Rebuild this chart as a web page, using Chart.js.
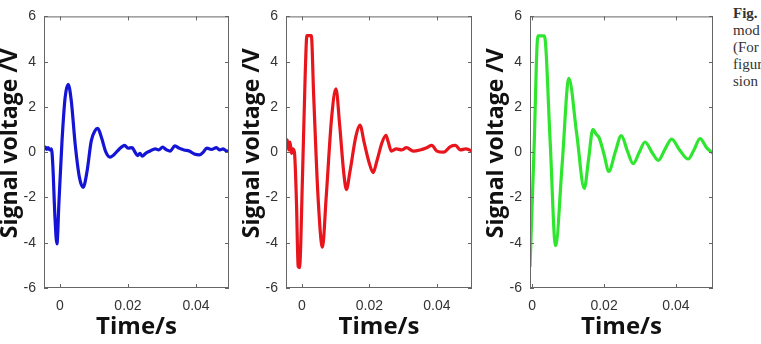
<!DOCTYPE html>
<html>
<head>
<meta charset="utf-8">
<script src="https://cdn.jsdelivr.net/npm/chart.js@4"></script>
<style>
  html, body { margin: 0; padding: 0; background: #fff; overflow: hidden; }
  body { width: 761px; height: 344px; position: relative; }
  .panel { position: absolute; top: 0; width: 240px; height: 344px; }
  .caption {
    position: absolute; left: 733px; top: 5px;
    font-family: "Liberation Serif", serif; font-size: 15px; line-height: 17px;
    color: #333; white-space: nowrap;
  }
</style>
</head>
<body>
<div class="panel" style="left:0px"><canvas id="g1" width="240" height="344"></canvas></div>
<div class="panel" style="left:242px"><canvas id="g2" width="240" height="344"></canvas></div>
<div class="panel" style="left:486px"><canvas id="g3" width="240" height="344"></canvas></div>
<div class="caption"><b>Fig.</b><br>mod<br>(For<br>figur<br>sion</div>

<script>
// eixos
const yTicks = [-6, -4, -2, 0, 2, 4, 6];
const xTicks = [0, 0.02, 0.04];
const xTickLabels = ["0", "0.02", "0.04"];
const tituloY = "Signal voltage /V";

// sinal 1 (azul)
const tempo1 = [-0.0047, -0.0043, -0.0039, -0.0035, -0.0030, -0.0025, -0.0021, -0.0015, -0.0009, -0.0003,
    0.0006, 0.0015, 0.0024, 0.0033, 0.0045, 0.0057, 0.0068, 0.0079, 0.0092, 0.0103,
    0.0111, 0.0122, 0.0135, 0.0147, 0.0158, 0.0172, 0.0190, 0.0200, 0.0212, 0.0220,
    0.0228, 0.0235, 0.0242, 0.0252, 0.0265, 0.0280, 0.0290, 0.0302, 0.0312, 0.0324,
    0.0338, 0.0350, 0.0365, 0.0380, 0.0395, 0.0410, 0.0420, 0.0432, 0.0445, 0.0460,
    0.0470, 0.0480, 0.0490, 0.0497];
const tensao1 = [0.15, 0.22, 0.12, 0.2, 0.1, 0.15, -0.6, -2.8, -4.05, -2.2,
    0.5, 2.4, 3.0, 2.3, 0.3, -1.1, -1.55, -0.9, 0.5, 0.95,
    1.05, 0.65, 0.0, -0.22, -0.12, 0.1, 0.3, 0.18, 0.2, 0.02,
    -0.15, -0.05, -0.18, -0.05, 0.05, 0.15, 0.1, 0.22, 0.12, 0.05,
    0.28, 0.18, 0.1, 0.05, -0.08, -0.12, -0.02, 0.18, 0.12, 0.2,
    0.1, 0.15, 0.05, 0.05];

// sinal 2 (vermelho)
const tempo2 = [-0.0047, -0.0043, -0.0039, -0.0035, -0.0031, -0.0027, -0.0022, -0.0016, -0.0011, -0.0007,
    0.0002, 0.0010, 0.0015, 0.0028, 0.0035, 0.0048, 0.0061, 0.0072, 0.0088, 0.0101,
    0.0112, 0.0124, 0.0132, 0.0142, 0.0160, 0.0172, 0.0185, 0.0200, 0.0211, 0.0222,
    0.0238, 0.0249, 0.0256, 0.0265, 0.0280, 0.0295, 0.0310, 0.0330, 0.0350, 0.0370,
    0.0385, 0.0400, 0.0420, 0.0440, 0.0455, 0.0470, 0.0485, 0.0504];
const tensao2 = [0.2, 0.55, 0.1, 0.45, -0.05, 0.15, 0.0, -2.2, -5.05, -5.1,
    -1.0, 3.5, 5.15, 5.15, 2.5, -2.0, -4.2, -2.0, 1.5, 2.8,
    1.2, -0.9, -1.65, -0.9, 0.7, 1.2, 0.4, -0.5, -0.9, -0.4,
    0.45, 0.75, 0.45, 0.05, 0.15, 0.1, 0.2, 0.05, 0.1, 0.2,
    0.3, 0.05, 0.0, 0.25, 0.3, 0.1, 0.15, 0.05];

// sinal 3 (verde)
const tempo3 = [-0.0006, 0.0005, 0.0016, 0.0034, 0.0050, 0.0065, 0.0084, 0.0102, 0.0124, 0.0145,
    0.0157, 0.0169, 0.0178, 0.0186, 0.0200, 0.0213, 0.0231, 0.0248, 0.0265, 0.0281,
    0.0298, 0.0314, 0.0333, 0.0351, 0.0370, 0.0388, 0.0410, 0.0434, 0.0450, 0.0467,
    0.0485, 0.0503];
const tensao3 = [-5.07, 0.0, 5.14, 5.14, 0.5, -4.13, -0.4, 3.26, 0.8, -1.6,
    -0.3, 1.01, 0.8, 0.65, -0.1, -0.85, 0.0, 0.73, 0.05, -0.51,
    0.0, 0.45, 0.0, -0.36, 0.15, 0.58, 0.1, -0.3, 0.1, 0.6,
    0.2, -0.05];

// moldura com marcas internas (estilo MATLAB) + título do eixo y
const moldura = {
    id: "moldura",
    afterDraw(chart) {
        const { ctx, chartArea: { left, right, top, bottom }, scales: { x, y } } = chart;
        ctx.save();
        ctx.strokeStyle = "#666";
        ctx.lineWidth = 1;
        ctx.strokeRect(left + 0.5, top + 0.5, right - left - 1, bottom - top - 1);
        ctx.beginPath();
        x.ticks.forEach(t => {
            const px = Math.round(x.getPixelForValue(t.value)) + 0.5;
            ctx.moveTo(px, bottom); ctx.lineTo(px, bottom - 4);
            ctx.moveTo(px, top); ctx.lineTo(px, top + 4);
        });
        y.ticks.forEach(t => {
            const py = Math.round(y.getPixelForValue(t.value)) + 0.5;
            ctx.moveTo(left, py); ctx.lineTo(left + 4, py);
            ctx.moveTo(right, py); ctx.lineTo(right - 4, py);
        });
        ctx.stroke();

        // título vertical, um pouco acima do centro como no original
        ctx.translate(10, (top + bottom) / 2 - 9);
        ctx.rotate(-Math.PI / 2);
        ctx.font = "bold 23px 'Open Sans'";
        ctx.fillStyle = "#111";
        ctx.textAlign = "center";
        ctx.textBaseline = "middle";
        ctx.fillText(tituloY, 0, 0);
        ctx.restore();
    }
};

function criarGrafico(id, tempos, tensoes, cor, xMin, xMax, padDireita) {
    const pontos = tempos.map((t, i) => ({ x: t, y: tensoes[i] }));
    const ctx = document.getElementById(id).getContext("2d");
    return new Chart(ctx, {
        type: "line",
        data: {
            datasets: [{
                data: pontos,
                borderColor: cor,
                borderWidth: 3.2,
                pointRadius: 0,
                cubicInterpolationMode: "monotone",
                fill: false
            }]
        },
        options: {
            responsive: false,
            animation: false,
            layout: { padding: { top: 13, right: padDireita, left: 0, bottom: 0 } },
            plugins: { legend: { display: false }, tooltip: { enabled: false } },
            scales: {
                x: {
                    type: "linear",
                    min: xMin,
                    max: xMax,
                    grid: { display: false, drawTicks: false },
                    border: { display: false },
                    afterBuildTicks: s => { s.ticks = xTicks.map(v => ({ value: v })); },
                    afterFit: s => { s.height = 56; },
                    ticks: {
                        padding: 10,
                        color: "#333",
                        font: { family: "'Liberation Sans', Arial", size: 14 },
                        callback: v => xTickLabels[xTicks.indexOf(v)] ?? ""
                    },
                    title: {
                        display: true,
                        text: "Time/s",
                        color: "#111",
                        font: { family: "'Open Sans'", size: 24, weight: "bold", lineHeight: 1 },
                        padding: { top: 0, bottom: 5 }
                    }
                },
                y: {
                    min: -6,
                    max: 6,
                    grid: { display: false, drawTicks: false },
                    border: { display: false },
                    afterBuildTicks: s => { s.ticks = yTicks.map(v => ({ value: v })); },
                    afterFit: s => { s.width = 44; },
                    ticks: {
                        padding: 8,
                        color: "#333",
                        font: { family: "'Liberation Sans', Arial", size: 14 },
                        callback: v => String(v)
                    }
                }
            }
        },
        plugins: [moldura]
    });
}

criarGrafico("g1", tempo1, tensao1, "#1414d6", -0.0047, 0.0497, 11);
criarGrafico("g2", tempo2, tensao2, "#e8161c", -0.0047, 0.0504, 10);
criarGrafico("g3", tempo3, tensao3, "#2fe62f", -0.0006, 0.0503, 13);
</script>
</body>
</html>
